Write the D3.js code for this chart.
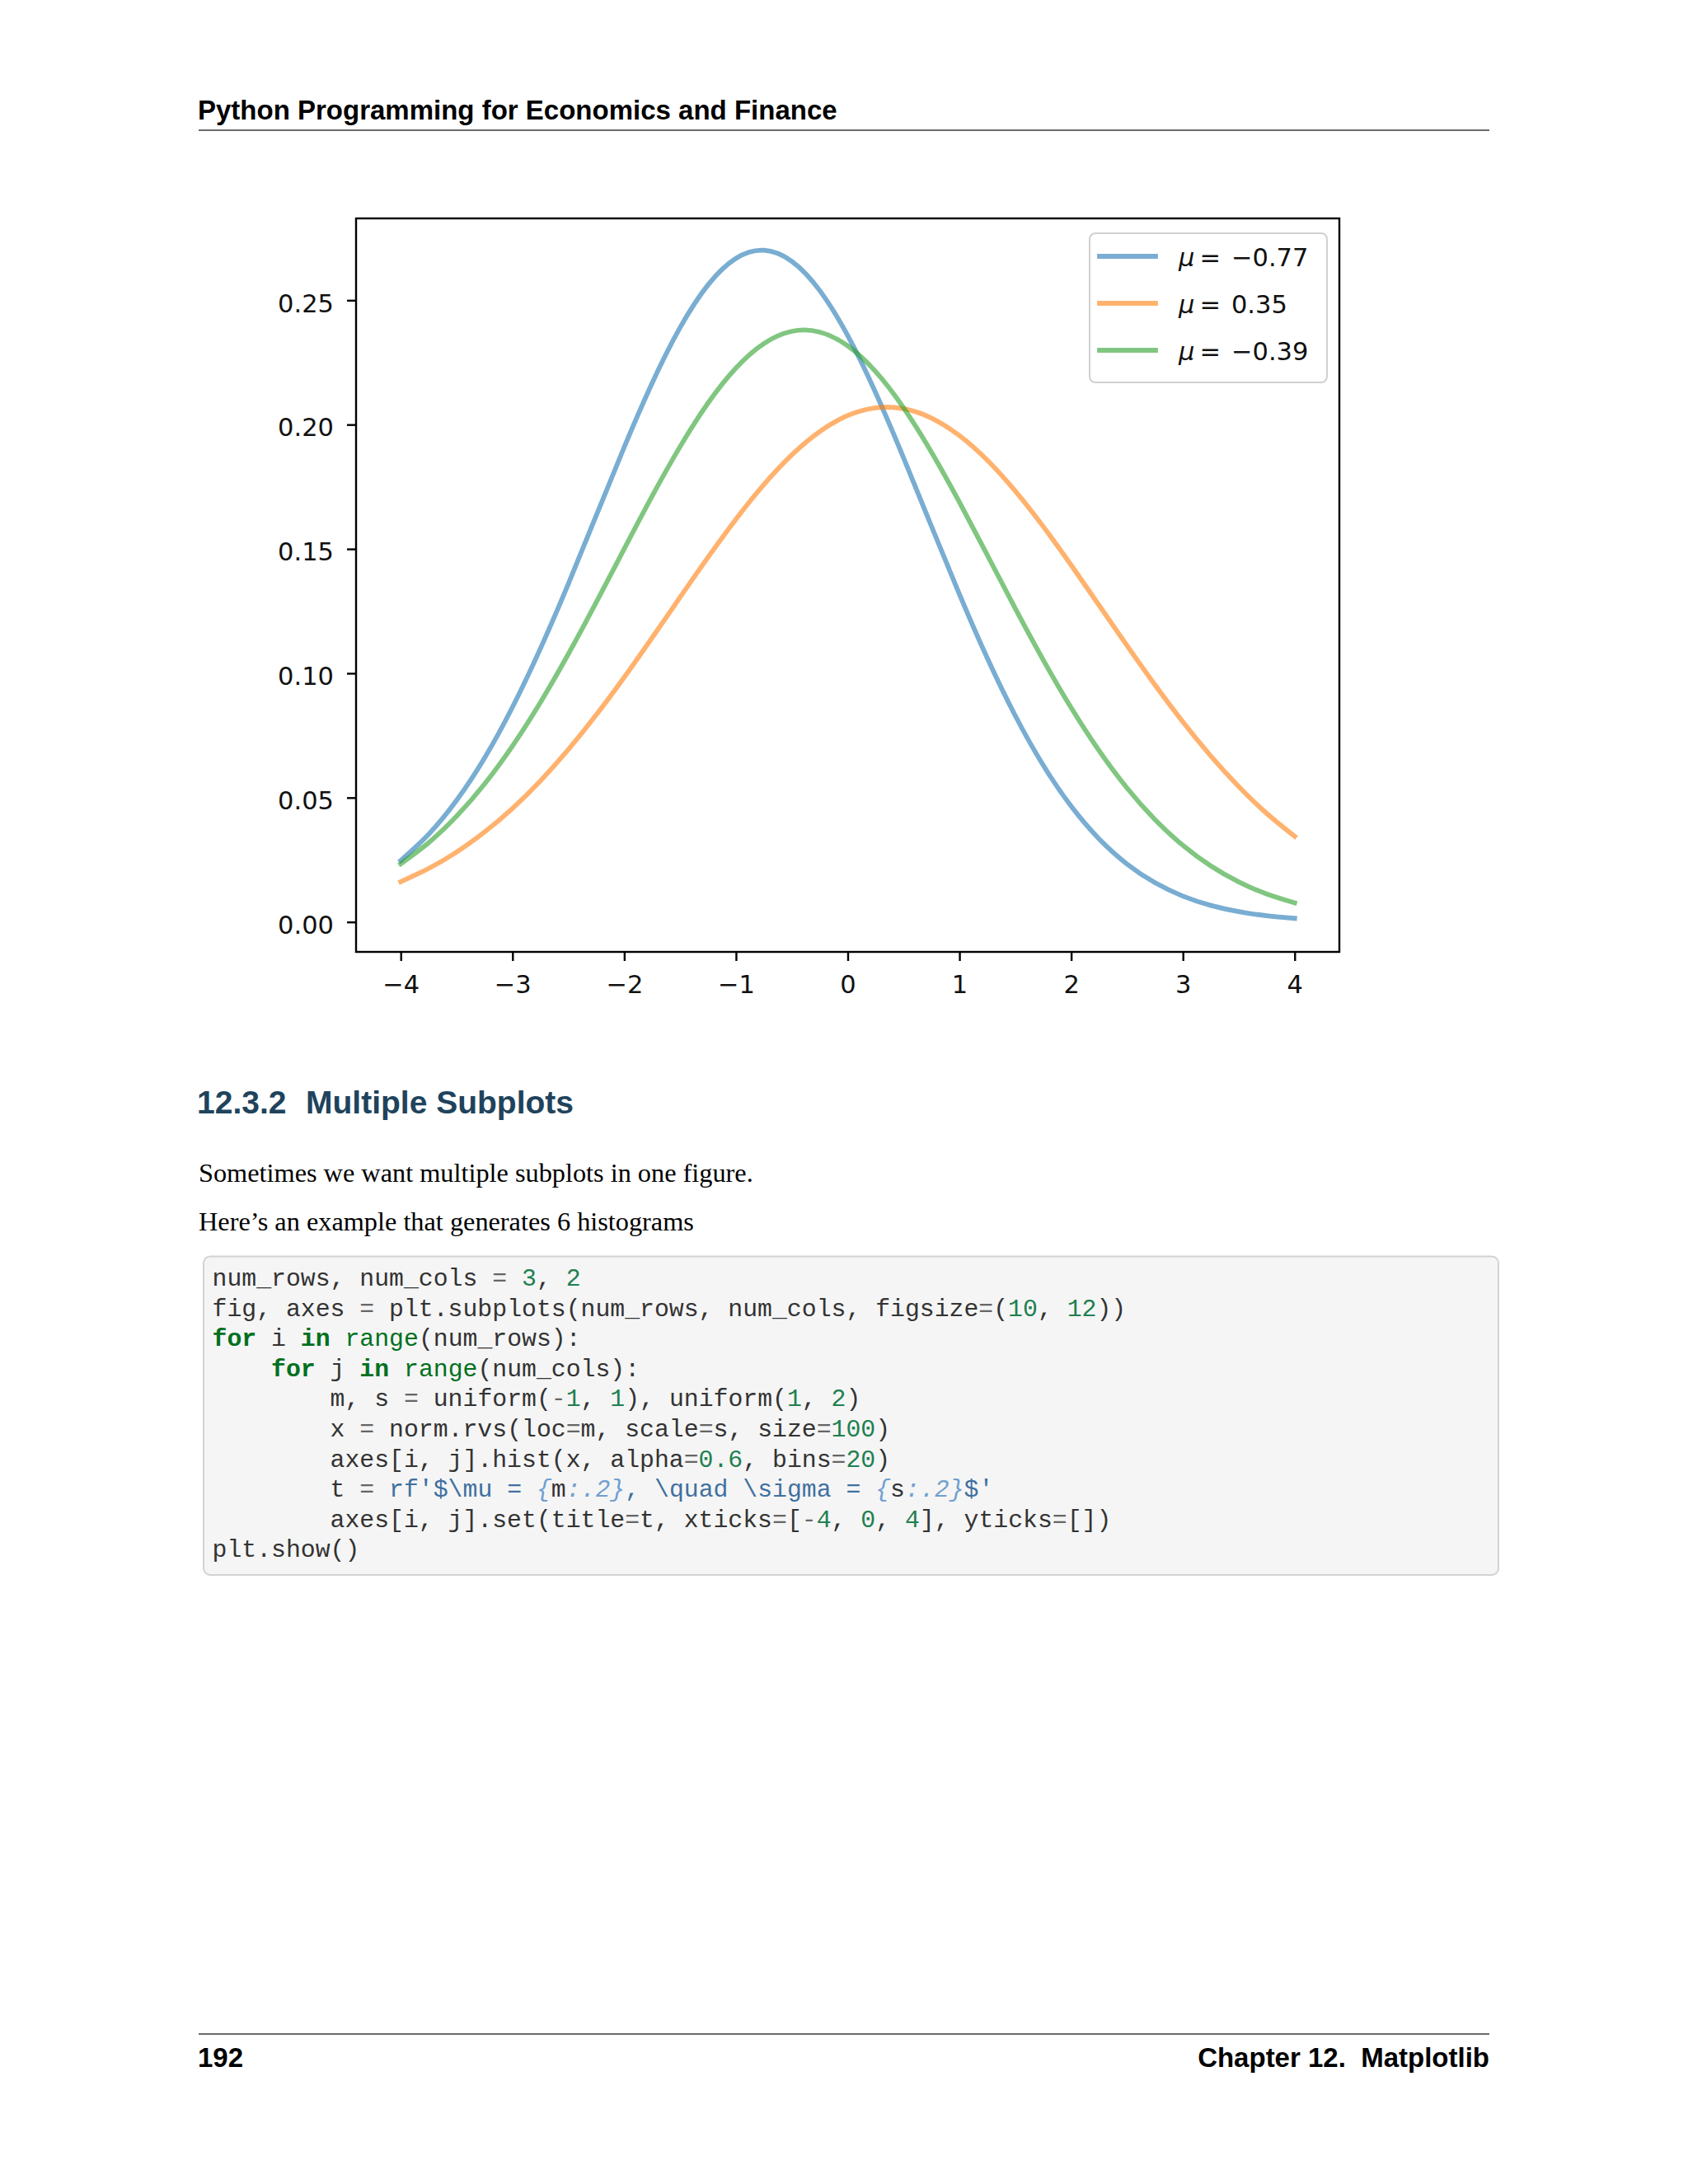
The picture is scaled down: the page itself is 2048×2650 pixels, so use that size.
<!DOCTYPE html>
<html>
<head>
<meta charset="utf-8">
<script src="https://cdn.jsdelivr.net/npm/d3@7"></script>
<style>
html, body { margin: 0; padding: 0; background: #ffffff; }
svg { display: block; }
</style>
</head>
<body>
<svg id="page" width="2048" height="2650"></svg>
<script>
// ---------------- DATA ----------------
const xGrid = [-4, -3.75, -3.5, -3.25, -3, -2.75, -2.5, -2.25, -2, -1.75, -1.5, -1.25, -1, -0.75, -0.5, -0.25,
  0, 0.25, 0.5, 0.75, 1, 1.25, 1.5, 1.75, 2, 2.25, 2.5, 2.75, 3, 3.25, 3.5, 3.75, 4];

const blueValues = [0.02472, 0.03529, 0.04894, 0.06596, 0.08641, 0.10998, 0.13601, 0.16349, 0.19095, 0.21674,
  0.23904, 0.25621, 0.26685, 0.27008, 0.26562, 0.25387, 0.23578, 0.21280, 0.18663, 0.15905, 0.13172, 0.10602,
  0.08292, 0.06301, 0.04653, 0.03340, 0.02329, 0.01578, 0.01039, 0.00665, 0.00414, 0.00250, 0.00147];

const orangeValues = [0.01620, 0.02153, 0.02813, 0.03616, 0.04568, 0.05676, 0.06935, 0.08331, 0.09842, 0.11432,
  0.13058, 0.14666, 0.16198, 0.17590, 0.18784, 0.19723, 0.20364, 0.20675, 0.20640, 0.20262, 0.19558, 0.18564,
  0.17326, 0.15901, 0.14349, 0.12733, 0.11110, 0.09532, 0.08042, 0.06672, 0.05442, 0.04365, 0.03443];

const greenValues = [0.02340, 0.03191, 0.04255, 0.05550, 0.07080, 0.08832, 0.10776, 0.12858, 0.15005, 0.17126,
  0.19115, 0.20867, 0.22277, 0.23260, 0.23752, 0.23720, 0.23167, 0.22129, 0.20673, 0.18887, 0.16876, 0.14748,
  0.12604, 0.10535, 0.08611, 0.06884, 0.05382, 0.04116, 0.03078, 0.02251, 0.01610, 0.01126, 0.00771];

const legendLabels = ["\u22120.77", "0.35", "\u22120.39"];

const xTicks = [-4, -3, -2, -1, 0, 1, 2, 3, 4];
const xTickLabels = ["\u22124", "\u22123", "\u22122", "\u22121", "0", "1", "2", "3", "4"];
const yTicks = [0, 0.05, 0.10, 0.15, 0.20, 0.25];
const yTickLabels = ["0.00", "0.05", "0.10", "0.15", "0.20", "0.25"];

const headerTitle = "Python Programming for Economics and Finance";
const sectionNumber = "12.3.2";
const sectionTitle = "Multiple Subplots";
const paragraphs = ["Sometimes we want multiple subplots in one figure.",
  "Here\u2019s an example that generates 6 histograms"];
const footerLeft = "192";
const footerRight = "Chapter 12.  Matplotlib";

// code tokens: [text, kind]
const codeLines = [
  [["num_rows, num_cols ", "n"], ["=", "o"], [" ", "n"], ["3", "m"], [", ", "n"], ["2", "m"]],
  [["fig, axes ", "n"], ["=", "o"], [" plt.subplots(num_rows, num_cols, figsize", "n"], ["=", "o"], ["(", "n"], ["10", "m"], [", ", "n"], ["12", "m"], ["))", "n"]],
  [["for", "k"], [" i ", "n"], ["in", "k"], [" ", "n"], ["range", "b"], ["(num_rows):", "n"]],
  [["    ", "n"], ["for", "k"], [" j ", "n"], ["in", "k"], [" ", "n"], ["range", "b"], ["(num_cols):", "n"]],
  [["        m, s ", "n"], ["=", "o"], [" uniform(", "n"], ["-", "o"], ["1", "m"], [", ", "n"], ["1", "m"], ["), uniform(", "n"], ["1", "m"], [", ", "n"], ["2", "m"], [")", "n"]],
  [["        x ", "n"], ["=", "o"], [" norm.rvs(loc", "n"], ["=", "o"], ["m, scale", "n"], ["=", "o"], ["s, size", "n"], ["=", "o"], ["100", "m"], [")", "n"]],
  [["        axes[i, j].hist(x, alpha", "n"], ["=", "o"], ["0.6", "m"], [", bins", "n"], ["=", "o"], ["20", "m"], [")", "n"]],
  [["        t ", "n"], ["=", "o"], [" ", "n"], ["rf'$\\mu = ", "s"], ["{", "i"], ["m", "n"], [":.2", "i"], ["}", "i"], [", \\quad \\sigma = ", "s"], ["{", "i"], ["s", "n"], [":.2", "i"], ["}", "i"], ["$'", "s"]],
  [["        axes[i, j].set(title", "n"], ["=", "o"], ["t, xticks", "n"], ["=", "o"], ["[", "n"], ["-", "o"], ["4", "m"], [", ", "n"], ["0", "m"], [", ", "n"], ["4", "m"], ["], yticks", "n"], ["=", "o"], ["[])", "n"]],
  [["plt.show()", "n"]]
];

// ---------------- DRAW ----------------
const svg = d3.select("#page");
svg.append("rect").attr("width", 2048).attr("height", 2650).attr("fill", "#ffffff");

const SANS = "'Liberation Sans', Arial, Helvetica, sans-serif";
const SERIF = "'Liberation Serif', 'Times New Roman', serif";
const MONO = "'Liberation Mono', 'Courier New', monospace";
const MPL = "'DejaVu Sans', sans-serif";

// header
svg.append("text").attr("x", 240).attr("y", 145)
  .attr("font-family", SANS).attr("font-weight", "bold").attr("font-size", 33).attr("fill", "#000")
  .text(headerTitle);
svg.append("line").attr("x1", 241).attr("x2", 1807).attr("y1", 158).attr("y2", 158)
  .attr("stroke", "#3a3a3a").attr("stroke-width", 1.6);

// ---------- chart ----------
const x = d3.scaleLinear().domain([-4.4, 4.4]).range([432, 1625]);
const y = d3.scaleLinear().domain([-0.01203, 0.28291]).range([1155, 265]);

const series = [
  { values: blueValues, color: "#1f77b4", label: legendLabels[0] },
  { values: orangeValues, color: "#ff7f0e", label: legendLabels[1] },
  { values: greenValues, color: "#2ca02c", label: legendLabels[2] }
];

const chart = svg.append("g");

const line = d3.line()
  .x((d, i) => x(xGrid[i]))
  .y(d => y(d))
  .curve(d3.curveNatural);

chart.selectAll("path.curve").data(series).join("path")
  .attr("class", "curve")
  .attr("d", d => line(d.values))
  .attr("fill", "none")
  .attr("stroke", d => d.color)
  .attr("stroke-opacity", 0.6)
  .attr("stroke-width", 5.8)
  .attr("stroke-linecap", "square");

// axes
const xAxis = d3.axisBottom(x).tickValues(xTicks)
  .tickFormat((d, i) => xTickLabels[i]).tickSize(11).tickPadding(17);
const gx = chart.append("g").attr("transform", "translate(0,1155)").call(xAxis);

const yAxis = d3.axisLeft(y).tickValues(yTicks)
  .tickFormat((d, i) => yTickLabels[i]).tickSize(11).tickPadding(16);
const gy = chart.append("g").attr("transform", "translate(432,0)").call(yAxis);

[gx, gy].forEach(g => {
  g.select(".domain").remove();
  g.selectAll(".tick line").attr("stroke", "#000").attr("stroke-width", 2.4);
  g.selectAll(".tick text").attr("font-family", MPL).attr("font-size", 30.5).attr("fill", "#111");
});
gy.selectAll(".tick text").attr("dy", "0.45em");

// frame
chart.append("rect").attr("x", x.range()[0]).attr("y", y.range()[1])
  .attr("width", x.range()[1] - x.range()[0]).attr("height", y.range()[0] - y.range()[1])
  .attr("fill", "none").attr("stroke", "#000").attr("stroke-width", 2.4);

// legend
const legend = chart.append("g");
legend.append("rect").attr("x", 1322).attr("y", 283).attr("width", 288).attr("height", 181)
  .attr("rx", 7).attr("fill", "#fff").attr("fill-opacity", 0.8)
  .attr("stroke", "#d0d0d0").attr("stroke-width", 2);
const legRows = legend.selectAll("g.row").data(series).join("g").attr("class", "row")
  .attr("transform", (d, i) => `translate(0,${311 + i * 57})`);
legRows.append("line").attr("x1", 1334).attr("x2", 1402).attr("y1", 0).attr("y2", 0)
  .attr("stroke", d => d.color).attr("stroke-opacity", 0.6).attr("stroke-width", 5.8)
  .attr("stroke-linecap", "square");
const lt = legRows.append("text").attr("x", 1430).attr("y", 12)
  .attr("font-family", MPL).attr("font-size", 30.5).attr("fill", "#111");
lt.append("tspan").attr("font-style", "italic").text("\u03bc");
lt.append("tspan").attr("dx", 6).text("=");
lt.append("tspan").attr("dx", 13).text(d => d.label);

// ---------- text body ----------
svg.append("text").attr("x", 239).attr("y", 1351)
  .attr("font-family", SANS).attr("font-weight", "bold").attr("font-size", 39).attr("fill", "#20435c")
  .text(sectionNumber);
svg.append("text").attr("x", 371).attr("y", 1351)
  .attr("font-family", SANS).attr("font-weight", "bold").attr("font-size", 39).attr("fill", "#20435c")
  .text(sectionTitle);

svg.selectAll("text.para").data(paragraphs).join("text").attr("class", "para")
  .attr("x", 241).attr("y", (d, i) => 1434 + i * 59)
  .attr("font-family", SERIF).attr("font-size", 32.3).attr("fill", "#000")
  .text(d => d);

// code block
svg.append("rect").attr("x", 247).attr("y", 1524.5).attr("width", 1571).attr("height", 386.5)
  .attr("rx", 8).attr("fill", "#f5f5f5").attr("stroke", "#d2d2d2").attr("stroke-width", 2);

const codeColors = { n: "#333333", o: "#666666", m: "#208050", k: "#007020", b: "#007020", s: "#4070a0", i: "#70a0d0" };
const codeG = svg.append("g");
codeLines.forEach((toks, li) => {
  const t = codeG.append("text").attr("x", 257.5).attr("y", 1560 + li * 36.6)
    .attr("font-family", MONO).attr("font-size", 29.8)
    .attr("xml:space", "preserve").style("white-space", "pre");
  toks.forEach(tok => {
    t.append("tspan").attr("fill", codeColors[tok[1]])
      .attr("font-weight", tok[1] === "k" ? "bold" : "normal")
      .attr("font-style", tok[1] === "i" ? "italic" : "normal")
      .text(tok[0]);
  });
});

// footer
svg.append("line").attr("x1", 241).attr("x2", 1807).attr("y1", 2468).attr("y2", 2468)
  .attr("stroke", "#3a3a3a").attr("stroke-width", 1.6);
svg.append("text").attr("x", 240).attr("y", 2508)
  .attr("font-family", SANS).attr("font-weight", "bold").attr("font-size", 33).text(footerLeft);
svg.append("text").attr("x", 1807).attr("y", 2508).attr("text-anchor", "end")
  .attr("font-family", SANS).attr("font-weight", "bold").attr("font-size", 33)
  .attr("xml:space", "preserve").style("white-space", "pre").text(footerRight);
</script>
</body>
</html>
